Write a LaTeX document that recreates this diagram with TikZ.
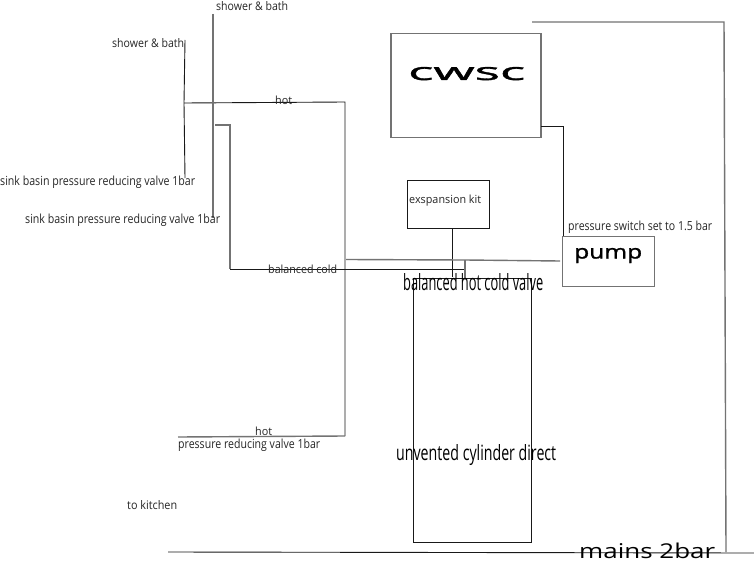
\documentclass[tikz,border=0pt]{standalone}
\usepackage{fontspec}
\usepackage{graphicx}
\setmainfont{Open Sans}
\newfontfamily\heavyfont[FakeBold=1.2]{Open Sans}
\tikzset{
  x=1pt,y=-1pt,
  pipe/.style={draw=black!90,line width=0.9pt},
  pipegrey/.style={draw=black!55,line width=1.4pt},
  unit/.style={rectangle,draw=black!90,line width=0.9pt,minimum width=#1,inner sep=0pt,anchor=north west},
  unitgrey/.style={rectangle,draw=black!55,line width=1.4pt,minimum width=#1,inner sep=0pt,anchor=north west},
  lbl/.style={inner sep=0pt,text=black!85,anchor=base west},
}
% fitted label: width, base height, text
\newcommand{\fitted}[3]{\resizebox{#1pt}{#2pt}{#3}}
\begin{document}
\begin{tikzpicture}
\useasboundingbox[fill=white] (0,0) rectangle (754,564);

% equipment
\node[unitgrey=150pt,minimum height=104pt] (cwsc) at (390.3,32.6) {};
\node[unit=82pt,minimum height=48pt] (kit) at (406.5,180) {};
\node[unitgrey=92pt,minimum height=50pt] (pumpbox) at (561.7,236) {};
\node[unit=118pt,minimum height=264pt] (cyl) at (413,278) {};

% junctions and pipe ends
\coordinate (mainsTop) at (532,22);
\coordinate (mainsCorner) at (724,22);
\coordinate (mainsFoot) at (726,552);
\coordinate (mainsL) at (168,552);
\coordinate (mainsR) at (754,553);
\coordinate (cwscOut) at (541,126);
\coordinate (cwscBend) at (563,126);
\coordinate (pumpIn) at (563,236);
\coordinate (kitFoot) at (452.7,277);
\coordinate (hotA) at (184,103);
\coordinate (hotB) at (345,102);
\coordinate (hotC) at (345,436);
\coordinate (hotD) at (178,437);
\coordinate (riserATop) at (185,40);
\coordinate (riserABot) at (185,178);
\coordinate (riserBTop) at (213,14);
\coordinate (riserBBot) at (213,218);
\coordinate (coldA) at (215,125);
\coordinate (coldB) at (230,125);
\coordinate (coldC) at (230,269);
\coordinate (coldD) at (465,269);
\coordinate (valveTop) at (465,260);
\coordinate (valveFoot) at (465,279);
\coordinate (feedL) at (346,259.5);
\coordinate (feedR) at (560,261);

% mains supply
\draw[pipegrey] (mainsTop) -- (mainsCorner) -- (mainsFoot);
\draw[pipe] (mainsL) -- (mainsR);

% tank feed to the pump
\draw[pipe] (cwscOut) -- (cwscBend) -- (pumpIn);

% expansion kit drop
\draw[pipe] (kit.south -| kitFoot) -- (kitFoot);

% hot distribution
\draw[pipe] (riserATop) -- (hotA) -- (riserABot);
\draw[pipe] (hotA) -- (hotB) -- (hotC);
\draw[pipegrey] (hotC) -- (hotD);
\draw[pipegrey] (riserBTop) -- (riserBBot);

% balanced cold
\draw[pipegrey] (coldA) -- (coldB) -- (coldC);
\draw[pipe] (coldC) -- (coldD);
\draw[pipegrey] (feedL) -- (valveTop) -- (feedR);
\draw[pipegrey] (valveTop) -- (valveFoot);

% labels
\node[lbl] (l1) at (216,10.5) {\fitted{72}{9}{shower \& bath}};
\node[lbl] (l2) at (112,47.5) {\fitted{72}{9}{shower \& bath}};
\node[lbl] (l3) at (275,105) {\fitted{17}{8.5}{hot}};
\node[lbl] (l4) at (0,185.5) {\fitted{195}{9.5}{sink basin pressure reducing valve 1bar}};
\node[lbl] (l5) at (25,223.5) {\fitted{195}{9.5}{sink basin pressure reducing valve 1bar}};
\node[lbl] (l6) at (268,273.5) {\fitted{69}{8.5}{balanced cold}};
\node[lbl] (l7) at (409,203.5) {\fitted{72}{8.5}{exspansion kit}};
\node[lbl] (l8) at (568,230) {\fitted{144}{9.5}{pressure switch set to 1.5 bar}};
\node[lbl,text=black] (l9) at (574,258.5) {\fitted{68}{10.5}{\heavyfont pump}};
\node[lbl,text=black] (l10) at (408,80) {\fitted{117}{13}{\heavyfont cwsc}};
\node[lbl,text=black] (l11) at (403,290) {\fitted{140}{17}{balanced hot cold valve}};
\node[lbl,text=black] (l12) at (396,460) {\fitted{160}{16}{unvented cylinder direct}};
\node[lbl] (l13) at (255,435) {\fitted{17}{8.5}{hot}};
\node[lbl] (l14) at (178,448) {\fitted{142}{9.5}{pressure reducing valve 1bar}};
\node[lbl] (l15) at (127,509) {\fitted{50}{9}{to kitchen}};
\node[lbl,text=black] (l16) at (579,558) {\fitted{136}{15.5}{mains 2bar}};
\end{tikzpicture}
\end{document}
